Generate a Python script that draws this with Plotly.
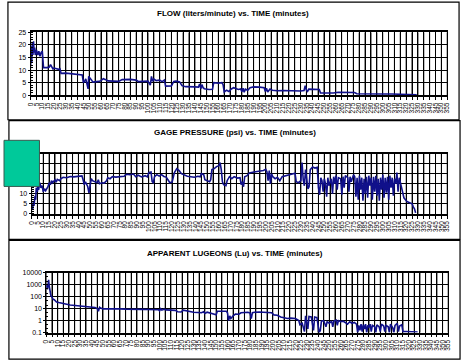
import plotly.graph_objects as go

# ---- grout injection record: flow, gage pressure and apparent Lugeons vs. elapsed time ----
flow_time = [0, 0.5, 1, 1.5, 2, 2.5, 3, 3.5, 4, 5, 6, 7, 8, 9, 10, 10.5, 11, 14, 16, 17, 18, 19, 20, 24, 25,
             26, 30, 35, 36, 40, 44, 45, 46, 47, 48, 49, 49.5, 50.5, 52, 53, 56, 58, 60, 62, 64, 66, 70, 75,
             78, 85, 90, 92, 96, 100, 102, 103, 104, 105, 107, 110, 112, 114, 115, 118, 120, 122, 124, 127,
             128, 129, 132, 136, 140, 143, 144, 145, 146, 147, 148, 152, 155, 156, 160, 163, 164, 165, 167,
             169, 171, 173, 175, 177, 179, 180, 181, 182, 183, 185, 187, 190, 195, 199, 200, 201, 202, 204,
             206, 210, 215, 220, 225, 230, 233, 234, 235, 236, 237, 242, 246, 247, 252, 258, 262, 270, 276,
             278, 285, 292, 300, 308, 316, 318, 325, 329]
flow_lpm = [11.5, 19.5, 13, 21, 16, 21.5, 17, 19, 16, 18, 16, 17.5, 15.5, 17, 17.5, 12.5, 11, 11, 11.2, 12.2,
            11.5, 10.5, 10.8, 10.3, 10.5, 8.7, 8.8, 8.6, 8.3, 8.2, 8.1, 5.0, 5.5, 6.5, 4.5, 2.5, 7.5, 7.0,
            6.0, 5.2, 5.3, 5.5, 5.8, 6.6, 6.2, 5.7, 5.6, 5.5, 6.2, 6.3, 6.0, 5.4, 5.5, 5.6, 4.0, 7.5, 5.5,
            6.5, 5.8, 6.0, 5.4, 6.0, 3.6, 3.5, 3.7, 5.5, 5.6, 5.3, 4.2, 3.8, 3.4, 3.5, 3.3, 3.2, 4.5, 2.6,
            4.2, 3.0, 2.6, 2.3, 2.4, 5.0, 4.8, 5.0, 4.2, 1.3, 2.0, 1.5, 2.5, 3.0, 2.6, 2.3, 2.5, 1.4, 2.8,
            1.2, 2.4, 2.0, 3.0, 3.3, 3.2, 3.0, 1.5, 2.8, 1.3, 2.5, 2.0, 1.8, 1.9, 1.8, 1.7, 1.7, 1.9, 3.8,
            2.0, 1.5, 2.4, 2.3, 2.3, 0.9, 0.8, 0.9, 1.2, 1.3, 1.1, 0.6, 0.5, 0.6, 0.5, 0.5, 0.4, 0.2, 0.2,
            0.15]

pressure_time = [0, 0.5, 1, 1.5, 2, 3, 3.5, 4, 5, 5.5, 6, 7, 8, 9, 10, 11, 12, 13, 14, 15, 16, 17, 18, 20,
                 21, 22, 24, 25, 27, 30, 33, 36, 40, 43, 44, 45, 46, 47, 48, 49, 50, 51, 52, 54, 56, 57, 58,
                 60, 62, 64, 65, 67, 69, 72, 76, 79, 81, 84, 87, 89, 91, 94, 97, 99, 100, 102, 103, 104,
                 105, 107, 109, 111, 113, 115, 117, 118, 120, 121, 122, 124, 126, 128, 131, 133, 136, 139,
                 142, 144, 145, 147, 148, 150, 152, 153, 154, 156, 158, 160, 161, 162, 163, 164, 166, 167,
                 169, 171, 173, 176, 178, 179, 180, 181, 182, 184, 186, 190, 194, 198, 200, 201, 202, 203,
                 204, 205, 206, 208, 210, 212, 214, 217, 220, 223, 225, 226, 228, 230, 231, 232, 233, 234,
                 235, 236, 237, 238, 240, 242, 244, 245, 246, 247, 248, 249, 250, 251, 252, 253, 254, 256,
                 257, 258, 259, 260, 261, 262, 264, 265, 266, 267, 268, 270, 271, 272, 273, 275, 276, 277,
                 278, 279, 280, 281, 282, 283, 284, 285, 286, 287, 288, 289, 290, 291, 292, 293, 294, 295,
                 296, 297, 298, 299, 300, 301, 302, 303, 304, 305, 306, 307, 308, 309, 310, 311, 312, 313,
                 314, 315, 316, 318, 319, 320, 321, 323, 325, 326, 327, 328]
pressure_psi = [2, 5, 2.5, 6, 4, 9, 7, 13, 11, 14, 12, 15.5, 13, 14, 11, 12.5, 11.5, 12.5, 13.5, 15.5, 14.5,
                16.5, 15.5, 17, 15.8, 17.2, 16.5, 17.5, 18.2, 18, 18.6, 18.4, 18.5, 18.9, 17, 14.5, 16, 15,
                13.5, 10.5, 14, 17.5, 16.5, 16, 15.5, 17, 15, 15.5, 15.3, 16.5, 18, 17.5, 18.5, 18.3, 18.6,
                18.7, 19.7, 19.5, 19.8, 18.5, 19.2, 18.4, 19, 18.4, 20.5, 20.8, 16, 15.5, 18.5, 19.5, 18.8,
                19.5, 18.6, 18.3, 16.5, 15.5, 15.8, 18, 20.5, 22.5, 21.5, 20, 19.3, 18.7, 18.5, 18.2, 18.7,
                18.4, 20, 19.5, 17, 16.5, 16, 17, 22, 22.5, 23.5, 24, 25.5, 22, 16, 14.5, 14, 16.5, 18.5,
                17.5, 18.5, 17.8, 18, 14.5, 16, 13.5, 18.5, 19, 20.3, 20.8, 21.2, 21.6, 22.2, 21, 16.5, 21.5,
                15, 20, 18.5, 17.5, 18.2, 16.5, 18.5, 19, 19.5, 20, 20.2, 16, 15.5, 16.5, 25.5, 17, 14, 22,
                16, 12.5, 13.5, 22, 23.3, 22.8, 23.2, 13, 9.5, 18, 16.5, 11, 17.5, 15, 8.5, 18, 14, 17.5,
                10, 18.5, 15, 19, 12, 18, 17.5, 9.5, 18.5, 13, 19, 18, 11, 18.5, 16, 19.5, 18.5, 8.5, 18, 7,
                19, 12, 18, 6.5, 17.5, 10, 18.5, 8, 19, 14, 18, 7, 18.5, 11, 19, 9, 17.5, 6.5, 18, 12, 19.5,
                8, 18, 10.5, 18.5, 7, 19, 13, 18, 9, 17.5, 15, 20.5, 11, 18, 16, 13, 8, 7, 6.5, 6, 5.5, 5,
                3.5, 2.5, 0.5]

lugeon_time = [0, 0.5, 1, 1.5, 2, 2.5, 3, 3.5, 4, 5, 6, 7, 8, 9, 11, 13, 15, 18, 21, 25, 28, 32, 36, 40, 43,
               45, 46, 47, 48, 50, 55, 60, 65, 70, 75, 79, 85, 90, 95, 99, 100, 101, 102, 104, 106, 108,
               110, 114, 116, 119, 121, 124, 126, 130, 134, 137, 139, 140, 142, 145, 148, 150, 151, 155,
               159, 160, 161, 162, 163, 165, 167, 170, 172, 175, 178, 180, 181, 182, 184, 188, 192, 196,
               199, 201, 204, 207, 210, 213, 216, 220, 223, 224, 226, 228, 229, 231, 232, 234, 236, 237,
               239, 241, 242, 243, 245, 247, 248, 250, 252, 253, 254, 256, 257, 258, 260, 262, 264, 266,
               268, 270, 272, 274, 275, 276, 277, 278, 279, 280, 281, 282, 283, 284, 285, 286, 287, 288,
               290, 291, 292, 294, 295, 296, 298, 299, 300, 302, 303, 304, 306, 307, 308, 310, 311, 312,
               314, 315, 318, 322, 326, 328]
lugeon_lu = [500, 900, 400, 1600, 2600, 800, 300, 200, 120, 90, 60, 55, 40, 36, 32, 28, 26, 23, 20, 18, 16.5,
             15.5, 14.5, 13.5, 12.5, 10, 6, 13, 11, 9.5, 9.8, 9.2, 9.5, 9, 9.3, 9, 8.7, 8.5, 8.2, 8.0, 6.5,
             10, 7.5, 9, 7.8, 7.5, 7, 7.2, 5.5, 5.2, 7.5, 6.5, 5.3, 5, 4.8, 4.5, 5.5, 4.0, 5.0, 4.2, 3.5,
             3.0, 6.0, 5.8, 6.0, 4.5, 1.0, 2.5, 1.5, 2.5, 3.5, 3.4, 4.5, 4.8, 5.0, 4.2, 1.5, 4.5, 5.0, 5.2,
             5.0, 5.1, 4.6, 3.0, 2.8, 2.0, 1.8, 1.5, 1.6, 1.5, 1.0, 0.45, 0.6, 0.12, 2.5, 0.2, 2.2, 2.0,
             0.15, 2.0, 1.8, 0.1, 0.15, 0.9, 1.0, 0.3, 0.8, 0.6, 0.9, 0.3, 0.9, 1.1, 0.4, 1.0, 0.8, 0.9,
             0.7, 0.5, 0.8, 0.6, 0.7, 0.5, 0.1, 0.4, 0.15, 0.5, 0.12, 0.45, 0.2, 0.5, 0.1, 0.4, 0.3, 0.5,
             0.12, 0.4, 0.3, 0.1, 0.45, 0.3, 0.12, 0.5, 0.35, 0.12, 0.4, 0.3, 0.1, 0.5, 0.25, 0.1, 0.4,
             0.6, 0.12, 0.35, 0.45, 0.12, 0.12, 0.11, 0.11, 0.11]

time_ticks = list(range(0, 360, 5))          # labelled minutes, 0 ... 355
time_labels = [str(t) for t in time_ticks]

panel_titles = ["FLOW (liters/minute) vs. TIME (minutes)",
                "GAGE PRESSURE (psi) vs. TIME (minutes)",
                "APPARENT LUGEONS (Lu) vs. TIME (minutes)"]

W, H = 466, 364
LINE = "#10108a"
FONT = "Liberation Sans, Arial, sans-serif"


def px_x(p):
    return p / W


def px_y(p):
    return 1 - p / H


fig = go.Figure()
series = [(flow_time, flow_lpm), (pressure_time, pressure_psi), (lugeon_time, lugeon_lu)]
for i, (t, v) in enumerate(series):
    sfx = str(i + 1) if i else ""
    fig.add_trace(go.Scatter(x=t, y=v, mode="lines", line=dict(color=LINE, width=1.6),
                             xaxis="x" + sfx, yaxis="y" + sfx, showlegend=False, hoverinfo="skip"))

# plot-area geometry in pixels: (left, right, top, bottom)
areas = [(27, 450, 29, 93), (28, 450, 152.5, 214), (43, 451, 274, 335)]

xaxis_common = dict(range=[0, time_ticks[-1]], tickmode="array", tickvals=time_ticks, ticktext=time_labels,
                    tickangle=-90, tickfont=dict(family=FONT, size=6.5, color="#000"),
                    showgrid=True, gridcolor="#000", gridwidth=1, zeroline=False,
                    showline=True, linecolor="#000", linewidth=1.5, mirror=True,
                    ticks="outside", ticklen=3, tickcolor="#000", fixedrange=True)
yaxis_common = dict(tickfont=dict(family=FONT, size=7, color="#000"), showgrid=True, gridcolor="#000",
                    gridwidth=1, zeroline=False, showline=True, linecolor="#000", linewidth=1, mirror=True,
                    ticks="outside", ticklen=2, tickcolor="#000", fixedrange=True)

layout = dict(width=W, height=H, margin=dict(l=0, r=0, t=0, b=0), paper_bgcolor="white",
              plot_bgcolor="white", showlegend=False)
for i, (l, r, tp, bt) in enumerate(areas):
    sfx = str(i + 1) if i else ""
    xa = dict(xaxis_common, domain=[px_x(l), px_x(r)], anchor="y" + sfx)
    ya = dict(yaxis_common, domain=[px_y(bt), px_y(tp)], anchor="x" + sfx)
    if i == 0:
        ya.update(range=[0, 25], dtick=5, minor=dict(dtick=1, ticks="inside", ticklen=2,
                                                     tickcolor="#000", showgrid=False))
    elif i == 1:
        ya.update(range=[0, 30], dtick=5, minor=dict(dtick=1, ticks="inside", ticklen=2,
                                                     tickcolor="#000", showgrid=False))
    else:
        ya.update(type="log", range=[-1, 4], tickmode="array",
                  tickvals=[0.1, 1, 10, 100, 1000, 10000],
                  ticktext=["0.1", "1", "10", "100", "1000", "10000"],
                  minor=dict(ticks="inside", ticklen=2, tickcolor="#000", showgrid=False))
    layout["xaxis" + sfx] = xa
    layout["yaxis" + sfx] = ya

fig.update_layout(**layout)

# vertical time grid at every labelled minute, placed through each panel's x scale
for i in range(3):
    sfx = str(i + 1) if i else ""
    for t in time_ticks:
        fig.add_shape(type="line", xref="x" + sfx, yref="y" + sfx + " domain", x0=t, x1=t, y0=0, y1=1,
                      line=dict(color="#000", width=1), layer="below")

# panel titles
title_pos = [(232, 10), (235, 131), (235, 254)]
for text, (cx, cy) in zip(panel_titles, title_pos):
    fig.add_annotation(text=f"<b>{text}</b>", x=px_x(cx), y=px_y(cy), xref="paper", yref="paper",
                       showarrow=False, font=dict(family=FONT, size=8, color="#000"),
                       xanchor="center", yanchor="middle")

# chart frames around each panel
frames = [(4, 462, -2, 118), (5, 463, 119, 240), (5, 463, 241, 362)]
for l, r, tp, bt in frames:
    fig.add_shape(type="rect", xref="paper", yref="paper", x0=px_x(l), x1=px_x(r), y0=px_y(bt),
                  y1=px_y(tp), line=dict(color="#000", width=1.2))

# green label block over the pressure axis
fig.add_shape(type="rect", xref="paper", yref="paper", x0=px_x(0), x1=px_x(36), y0=px_y(186),
              y1=px_y(139), line=dict(color="#3a5a50", width=1), fillcolor="#00c99a", layer="above")

fig.write_html("out.html")
